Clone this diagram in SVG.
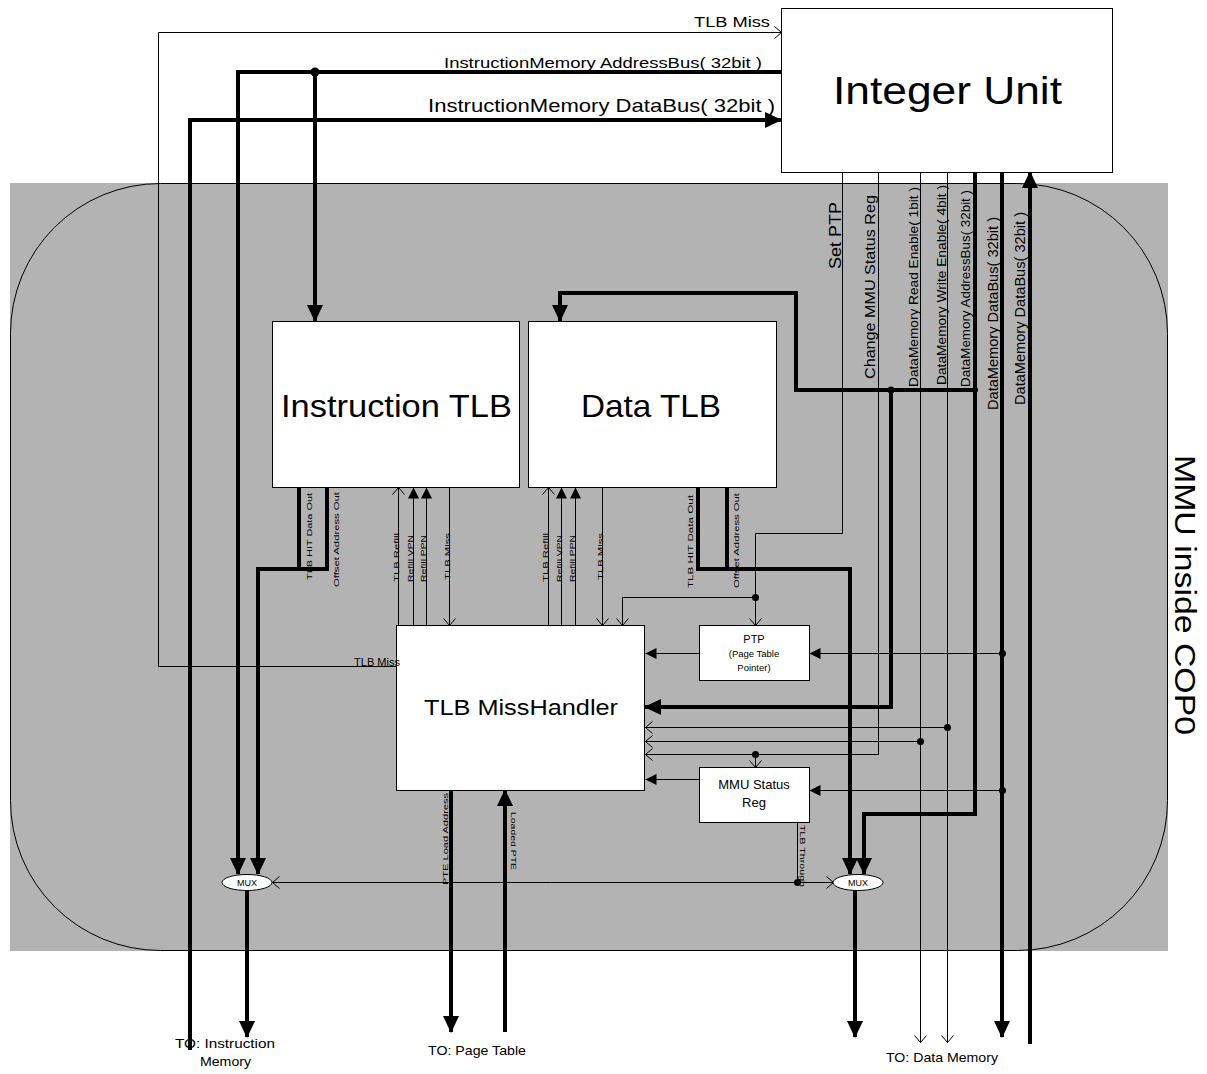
<svg xmlns="http://www.w3.org/2000/svg" width="1207" height="1074" viewBox="0 0 1207 1074">
<style>
text{font-family:"Liberation Sans",Arial,sans-serif;fill:#000}
.box{fill:#fff;stroke:#000;stroke-width:1}
.thin{fill:none;stroke:#000;stroke-width:1}
.thick{fill:none;stroke:#000;stroke-width:4}
.s8{font-size:8px}
.s13{font-size:13px}
</style>
<defs>
<marker id="aT" viewBox="0 0 17 16" refX="16" refY="8" markerWidth="17" markerHeight="16" markerUnits="userSpaceOnUse" orient="auto"><path d="M0,0 L17,8 L0,16 z" fill="#000"/></marker>
<marker id="aS" viewBox="0 0 11 11" refX="11" refY="5.5" markerWidth="11" markerHeight="11" markerUnits="userSpaceOnUse" orient="auto"><path d="M0,0 L11,5.5 L0,11 z" fill="#000"/></marker>
<marker id="aO" viewBox="-1 -1 9 14" refX="7" refY="6" markerWidth="9" markerHeight="14" markerUnits="userSpaceOnUse" orient="auto"><path d="M0,0 L7,6 L0,12" fill="none" stroke="#000" stroke-width="1"/></marker>
</defs>
<rect width="1207" height="1074" fill="#fff"/>
<g id="mmu-region">
<rect x="10" y="183" width="1158" height="768" fill="#b3b3b3"/>
<rect x="10.5" y="183.5" width="1157" height="767" rx="150" ry="150" fill="none" stroke="#000" stroke-width="1"/>
<text transform="translate(1175,455) rotate(90)" font-size="29" textLength="280" lengthAdjust="spacingAndGlyphs">MMU inside COP0</text>
</g>
<g id="connectors">
<g id="thin-connectors" transform="translate(0.5,0.5)">
<polyline class="thin" points="396,666 158,666 158,32 781,32" marker-end="url(#aO)"/>
<line class="thin" x1="398" y1="625" x2="398" y2="487" marker-end="url(#aO)"/>
<line class="thin" x1="413" y1="625" x2="413" y2="487" marker-end="url(#aS)"/>
<line class="thin" x1="426" y1="625" x2="426" y2="487" marker-end="url(#aS)"/>
<line class="thin" x1="449" y1="487" x2="449" y2="625" marker-end="url(#aO)"/>
<line class="thin" x1="548" y1="625" x2="548" y2="487" marker-end="url(#aO)"/>
<line class="thin" x1="561" y1="625" x2="561" y2="487" marker-end="url(#aS)"/>
<line class="thin" x1="575" y1="625" x2="575" y2="487" marker-end="url(#aS)"/>
<line class="thin" x1="602" y1="487" x2="602" y2="625" marker-end="url(#aO)"/>
<polyline class="thin" points="842,172 842,533 755,533 755,625" marker-end="url(#aO)"/>
<polyline class="thin" points="755,597 622,597 622,625" marker-end="url(#aO)"/>
<polyline class="thin" points="878,172 878,754 645,754" marker-end="url(#aO)"/>
<line class="thin" x1="755" y1="754" x2="755" y2="767" marker-end="url(#aO)"/>
<line class="thin" x1="920" y1="172" x2="920" y2="1042" marker-end="url(#aO)"/>
<line class="thin" x1="920" y1="741" x2="645" y2="741" marker-end="url(#aO)"/>
<line class="thin" x1="947" y1="172" x2="947" y2="1042" marker-end="url(#aO)"/>
<line class="thin" x1="947" y1="727" x2="645" y2="727" marker-end="url(#aO)"/>
<line class="thin" x1="1002" y1="653" x2="809" y2="653" marker-end="url(#aS)"/>
<line class="thin" x1="1002" y1="790" x2="809" y2="790" marker-end="url(#aS)"/>
<line class="thin" x1="699" y1="653" x2="645" y2="653" marker-end="url(#aS)"/>
<line class="thin" x1="699" y1="779" x2="645" y2="779" marker-end="url(#aS)"/>
<line class="thin" x1="797" y1="822" x2="797" y2="882"/>
<line class="thin" x1="550" y1="882" x2="272" y2="882" marker-end="url(#aO)"/>
<line class="thin" x1="550" y1="882" x2="833" y2="882" marker-end="url(#aO)"/>
<circle cx="755" cy="597" r="3.5"/>
<circle cx="755" cy="754" r="3.5"/>
<circle cx="920" cy="741" r="3.5"/>
<circle cx="947" cy="727" r="3.5"/>
<circle cx="1002" cy="653" r="3.5"/>
<circle cx="1002" cy="790" r="3.5"/>
<circle cx="797" cy="882" r="3.5"/>
</g>
<polyline class="thick" points="781,72 238,72 238,874" marker-end="url(#aT)"/>
<line class="thick" x1="315" y1="72" x2="315" y2="321" marker-end="url(#aT)"/>
<circle cx="315" cy="72" r="4.5"/>
<polyline class="thick" points="190,1050 190,120 781,120" marker-end="url(#aT)"/>
<polyline class="thick" points="299,487 299,569"/>
<polyline class="thick" points="327,487 327,569 258,569 258,874" marker-end="url(#aT)"/>
<polyline class="thick" points="727,487 727,569"/>
<polyline class="thick" points="698,487 698,569 850,569 850,874" marker-end="url(#aT)"/>
<polyline class="thick" points="975,172 975,814 864,814 864,874" marker-end="url(#aT)"/>
<polyline class="thick" points="975,390 796,390 796,293 560,293 560,321" marker-end="url(#aT)"/>
<polyline class="thick" points="891,390 891,707 645,707" marker-end="url(#aT)"/>
<circle cx="891" cy="390" r="3.5"/>
<circle cx="975" cy="390" r="3"/>
<line class="thick" x1="1002" y1="172" x2="1002" y2="1037" marker-end="url(#aT)"/>
<line class="thick" x1="1030" y1="1044" x2="1030" y2="172" marker-end="url(#aT)"/>
<line class="thick" x1="451" y1="790" x2="451" y2="1032" marker-end="url(#aT)"/>
<line class="thick" x1="505" y1="1032" x2="505" y2="790" marker-end="url(#aT)"/>
<line class="thick" x1="247" y1="890" x2="247" y2="1037" marker-end="url(#aT)"/>
<line class="thick" x1="855" y1="890" x2="855" y2="1037" marker-end="url(#aT)"/>
</g>
<g id="integer-unit">
<rect class="box" x="781.5" y="8.5" width="331" height="164"/>
<text x="833" y="104" font-size="38" textLength="229" lengthAdjust="spacingAndGlyphs">Integer Unit</text>
</g>
<g id="instruction-tlb">
<rect class="box" x="272.5" y="321.5" width="247" height="166"/>
<text x="281" y="417" font-size="32" textLength="231" lengthAdjust="spacingAndGlyphs">Instruction TLB</text>
</g>
<g id="data-tlb">
<rect class="box" x="528.5" y="321.5" width="248" height="166"/>
<text x="581" y="417" font-size="32" textLength="140" lengthAdjust="spacingAndGlyphs">Data TLB</text>
</g>
<g id="tlb-misshandler">
<rect class="box" x="396.5" y="625.5" width="248" height="165"/>
<text x="424" y="715" font-size="22" textLength="194" lengthAdjust="spacingAndGlyphs">TLB MissHandler</text>
</g>
<g id="ptp">
<rect class="box" x="699.5" y="625.5" width="110" height="55"/>
<text x="754" y="643" font-size="11" text-anchor="middle">PTP</text>
<text x="754" y="657" font-size="9.5" text-anchor="middle">(Page Table</text>
<text x="754" y="671" font-size="9.5" text-anchor="middle">Pointer)</text>
</g>
<g id="mmu-status-reg">
<rect class="box" x="699.5" y="767.5" width="110" height="55"/>
<text x="754" y="789" font-size="13" text-anchor="middle">MMU Status</text>
<text x="754" y="807" font-size="13" text-anchor="middle">Reg</text>
</g>
<g id="mux-instruction">
<ellipse class="box" cx="247" cy="882.5" rx="25" ry="8"/>
<text x="247" y="886" font-size="9" text-anchor="middle">MUX</text>
</g>
<g id="mux-data">
<ellipse class="box" cx="858" cy="882.5" rx="25" ry="8"/>
<text x="858" y="886" font-size="9" text-anchor="middle">MUX</text>
</g>
<g id="connector-labels">
<text x="694" y="27" font-size="15" textLength="76" lengthAdjust="spacingAndGlyphs">TLB Miss</text>
<text x="444" y="68" font-size="15" textLength="318" lengthAdjust="spacingAndGlyphs">InstructionMemory AddressBus( 32bit )</text>
<text x="428" y="112" font-size="19" textLength="347" lengthAdjust="spacingAndGlyphs">InstructionMemory DataBus( 32bit )</text>
<text x="354" y="666" font-size="10" textLength="46" lengthAdjust="spacingAndGlyphs">TLB Miss</text>
<text transform="translate(841,269) rotate(-90)" font-size="17" textLength="67" lengthAdjust="spacingAndGlyphs">Set PTP</text>
<text transform="translate(875,379) rotate(-90)" font-size="15" textLength="184" lengthAdjust="spacingAndGlyphs">Change MMU Status Reg</text>
<text transform="translate(918,387) rotate(-90)" font-size="13" textLength="200" lengthAdjust="spacingAndGlyphs">DataMemory Read Enable( 1bit )</text>
<text transform="translate(946,385) rotate(-90)" font-size="13" textLength="200" lengthAdjust="spacingAndGlyphs">DataMemory Write Enable( 4bit )</text>
<text transform="translate(970,387) rotate(-90)" font-size="13" textLength="197" lengthAdjust="spacingAndGlyphs">DataMemory AddressBus( 32bit )</text>
<text transform="translate(998,410) rotate(-90)" font-size="14" textLength="193" lengthAdjust="spacingAndGlyphs">DataMemory DataBus( 32bit )</text>
<text transform="translate(1025,405) rotate(-90)" font-size="14" textLength="193" lengthAdjust="spacingAndGlyphs">DataMemory DataBus( 32bit )</text>
<text class="s8" transform="translate(312,580) rotate(-90)" textLength="87" lengthAdjust="spacingAndGlyphs">TLB HIT Data Out</text>
<text class="s8" transform="translate(339,587) rotate(-90)" textLength="95" lengthAdjust="spacingAndGlyphs">Offset Address Out</text>
<text class="s8" transform="translate(399,582) rotate(-90)" textLength="49" lengthAdjust="spacingAndGlyphs">TLB Refill</text>
<text class="s8" transform="translate(413,582) rotate(-90)" textLength="47" lengthAdjust="spacingAndGlyphs">Refill VPN</text>
<text class="s8" transform="translate(426,582) rotate(-90)" textLength="47" lengthAdjust="spacingAndGlyphs">Refill PPN</text>
<text class="s8" transform="translate(450,580) rotate(-90)" textLength="47" lengthAdjust="spacingAndGlyphs">TLB Miss</text>
<text class="s8" transform="translate(548,582) rotate(-90)" textLength="49" lengthAdjust="spacingAndGlyphs">TLB Refill</text>
<text class="s8" transform="translate(562,582) rotate(-90)" textLength="47" lengthAdjust="spacingAndGlyphs">Refill VPN</text>
<text class="s8" transform="translate(575,582) rotate(-90)" textLength="47" lengthAdjust="spacingAndGlyphs">Refill PPN</text>
<text class="s8" transform="translate(603,580) rotate(-90)" textLength="47" lengthAdjust="spacingAndGlyphs">TLB Miss</text>
<text class="s8" transform="translate(693,588) rotate(-90)" textLength="93" lengthAdjust="spacingAndGlyphs">TLB HIT Data Out</text>
<text class="s8" transform="translate(739,588) rotate(-90)" textLength="95" lengthAdjust="spacingAndGlyphs">Offset Address Out</text>
<text class="s8" transform="translate(448,885) rotate(-90)" textLength="92" lengthAdjust="spacingAndGlyphs">PTE Load Address</text>
<text class="s8" transform="translate(511,812) rotate(90)" textLength="58" lengthAdjust="spacingAndGlyphs">Loaded PTE</text>
<text class="s8" transform="translate(800,825) rotate(90)" textLength="62" lengthAdjust="spacingAndGlyphs">TLB Through</text>
<text class="s13" x="175" y="1048" textLength="100" lengthAdjust="spacingAndGlyphs">TO: Instruction</text>
<text class="s13" x="200" y="1066" textLength="51" lengthAdjust="spacingAndGlyphs">Memory</text>
<text class="s13" x="428" y="1055" textLength="98" lengthAdjust="spacingAndGlyphs">TO: Page Table</text>
<text class="s13" x="886" y="1062" textLength="112" lengthAdjust="spacingAndGlyphs">TO: Data Memory</text>
</g>
</svg>
